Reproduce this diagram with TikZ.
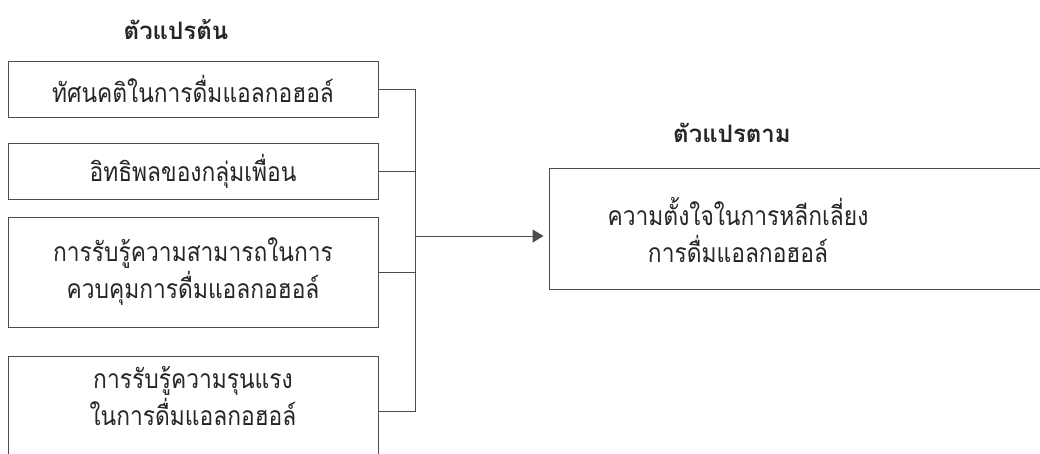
\documentclass[tikz,border=0pt]{standalone}
\usepackage{fontspec}
\newfontfamily\thai[Script=Thai]{Loma}
\newfontfamily\thainarrow[Script=Thai,FakeStretch=0.86]{Loma}
\usetikzlibrary{arrows.meta}
\begin{document}
\begin{tikzpicture}[x=1pt,y=-1pt,
  box/.style={draw=black!70, line width=0.9pt, inner sep=0pt},
  conn/.style={draw=black!70, line width=0.9pt},
  txt/.style={font=\thainarrow\fontsize{26.5}{37}\selectfont, align=center, text=black!85},
  ttl/.style={font=\thai\bfseries\fontsize{24}{26}\selectfont, text=black!85}]
\useasboundingbox[clip] (0,0) rectangle (1040,453);
\fill[white] (0,0) rectangle (1040,453);
\node[ttl] (t1) at (176,30) {ตัวแปรต้น};
\node[ttl] (t2) at (732,133) {ตัวแปรตาม};
\node[box, minimum width=370pt, minimum height=56pt] (b1) at (193,89) {};
\node[txt] (l1) at (193,89) {ทัศนคติในการดื่มแอลกอฮอล์};
\node[box, minimum width=370pt, minimum height=56pt] (b2) at (193,171) {};
\node[txt] (l2) at (193,171) {อิทธิพลของกลุ่มเพื่อน};
\node[box, minimum width=370pt, minimum height=110pt] (b3) at (193,272) {};
\node[txt] (l3) at (193,272) {การรับรู้ความสามารถในการ\\ควบคุมการดื่มแอลกอฮอล์};
\node[box, minimum width=370pt, minimum height=110pt] (b4) at (193,411) {};
\node[txt] (l4) at (193,396) {การรับรู้ความรุนแรง\\ในการดื่มแอลกอฮอล์};
\node[box, minimum width=500pt, minimum height=121pt] (dv) at (799,228.5) {};
\node[txt] (l5) at (738,230) {ความตั้งใจในการหลีกเลี่ยง\\การดื่มแอลกอฮอล์};
\coordinate (bx) at (415,236);
\draw[conn] (b1.east) -- (b1.east -| bx) -- (b4.east -| bx) -- (b4.east);
\draw[conn] (b2.east) -- (b2.east -| bx);
\draw[conn] (b3.east) -- (b3.east -| bx);
\draw[conn, -{Triangle[length=11pt,width=13pt]}, shorten >=5pt] (bx) -- (bx -| dv.west);
\end{tikzpicture}
\end{document}
